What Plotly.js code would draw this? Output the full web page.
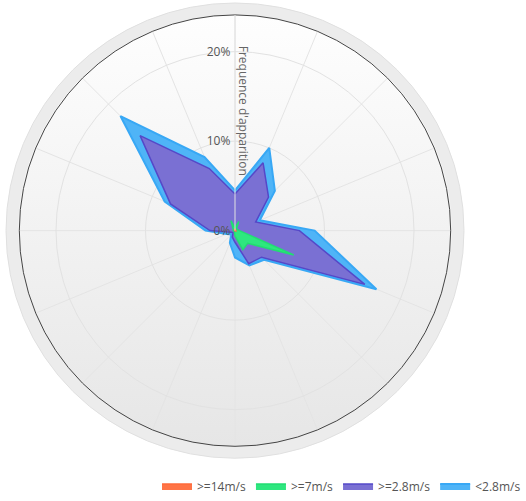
<!DOCTYPE html>
<html>
<head>
<meta charset="utf-8">
<script src="https://cdn.plot.ly/plotly-3.0.1.min.js"></script>
<style>html,body{margin:0;padding:0;background:#fff;}#chart{width:526px;height:501px;}</style>
</head>
<body>
<div id="chart"></div>
<script>
// Wind directions (16 sectors)
const directions = ['N','NNE','NE','ENE','E','ESE','SE','SSE','S','SSW','SW','WSW','W','WNW','NW','NNW'];
// Frequency (%) per speed class, per direction
const ge14 = [0.1, 0.2, 0.0, 0.0, 0.0, 0.2, 0.0, 0.0, 0.0, 0.0, 0.0, 0.0, 0.0, 0.0, 0.0, 0.2];
const ge7  = [0.2, 0.9, 0.2, 0.3, 0.5, 6.9, 2.0, 2.3, 0.6, 0.2, 0.1, 0.1, 0.2, 0.2, 0.3, 1.0];
const ge28 = [3.8, 7.1, 5.1, 2.2, 6.7, 8.6, 2.2, 1.7, 0.7, 0.6, 0.2, 0.4, 2.6, 7.6, 14.7, 6.3];
const lt28 = [0.4, 1.8, 1.0, 0.5, 1.7, 1.4, 0.4, 0.2, 1.7, 0.7, 0.3, 0.5, 0.5, 0.7, 3.1, 1.4];
const seriesNames = ['>=14m/s', '>=7m/s', '>=2.8m/s', '<2.8m/s'];
const radialTicks = [0, 10, 20];
const radialTitle = "Frequence d'apparition";

// stacked (cumulative) radii
const classes = [ge14, ge7, ge28, lt28];
const cumul = [];
let run = directions.map(() => 0);
classes.forEach(c => { run = run.map((v, i) => v + c[i]); cumul.push(run.slice()); });

const fills = ['#ff7446', '#2ee77f', '#7a70d3', '#4fb4f7'];
const lines = ['#ff6a3a', '#22dd72', '#5548c8', '#38a8f5'];

const traces = [];
for (let k = classes.length - 1; k >= 0; k--) {
  traces.push({
    type: 'scatterpolar',
    r: cumul[k].concat([cumul[k][0]]),
    theta: directions.concat([directions[0]]),
    name: seriesNames[k],
    mode: 'lines',
    fill: 'toself',
    fillcolor: fills[k],
    line: {color: lines[k], width: k === 3 ? 2 : 1.5},
    hoverinfo: 'skip'
  });
}

const cx = 235, cy = 232, rOuter = 229, rIn = 217;
const svg = `<svg xmlns="http://www.w3.org/2000/svg" width="526" height="501" viewBox="0 0 526 501">
<defs><linearGradient id="g" x1="0" y1="0" x2="0" y2="1">
<stop offset="0" stop-color="#fefefe"/><stop offset="1" stop-color="#e6e6e6"/></linearGradient></defs>
<circle cx="${cx}" cy="${cy}" r="${rOuter}" fill="#ececec" stroke="#e0e0e0" stroke-width="1"/>
<circle cx="${cx}" cy="${cy}" r="${rIn}" fill="url(#g)"/>
</svg>`;
const svgUri = 'data:image/svg+xml;base64,' + btoa(svg);

const W = 526, H = 501;
const layout = {
  width: W, height: H,
  margin: {l: 0, r: 0, t: 0, b: 0},
  paper_bgcolor: '#ffffff',
  font: {family: 'Open Sans, Noto Sans, sans-serif', color: '#555', size: 12},
  showlegend: true,
  legend: {
    orientation: 'h', x: 1, xanchor: 'right', y: (H - 489) / H, yanchor: 'middle',
    traceorder: 'reversed', font: {size: 12, color: '#555'}, itemwidth: 30,
    bgcolor: 'rgba(0,0,0,0)'
  },
  images: [{source: svgUri, xref: 'paper', yref: 'paper', x: 0, y: 1, sizex: 1, sizey: 1,
            xanchor: 'left', yanchor: 'top', sizing: 'stretch', layer: 'below'}],
  polar: {
    domain: {x: [(cx - rIn) / W, (cx + rIn) / W], y: [(H - cy - rIn) / H, (H - cy + rIn) / H]},
    bgcolor: 'rgba(0,0,0,0)',
    radialaxis: {
      range: [0, 24.1], angle: 90, side: 'counterclockwise', tickvals: radialTicks,
      ticktext: radialTicks.map(v => v + '%'), ticks: '', showline: true, linecolor: '#e2e2e2',
      gridcolor: '#e2e2e2', tickfont: {size: 12, color: '#555'}, layer: 'above traces',
      tickangle: 90
    },
    angularaxis: {
      type: 'category', categoryarray: directions, direction: 'clockwise', rotation: 90,
      showticklabels: false, ticks: '', showline: true, linecolor: '#444', linewidth: 1,
      gridcolor: '#e4e4e4'
    }
  },
  annotations: [{
    text: radialTitle, xref: 'paper', yref: 'paper', x: 243 / W, y: (H - 44) / H,
    xanchor: 'center', yanchor: 'top', textangle: 90, showarrow: false,
    font: {size: 12, color: '#666'}
  }]
};

Plotly.newPlot('chart', traces, layout, {displayModeBar: false, staticPlot: true});
</script>
</body>
</html>
